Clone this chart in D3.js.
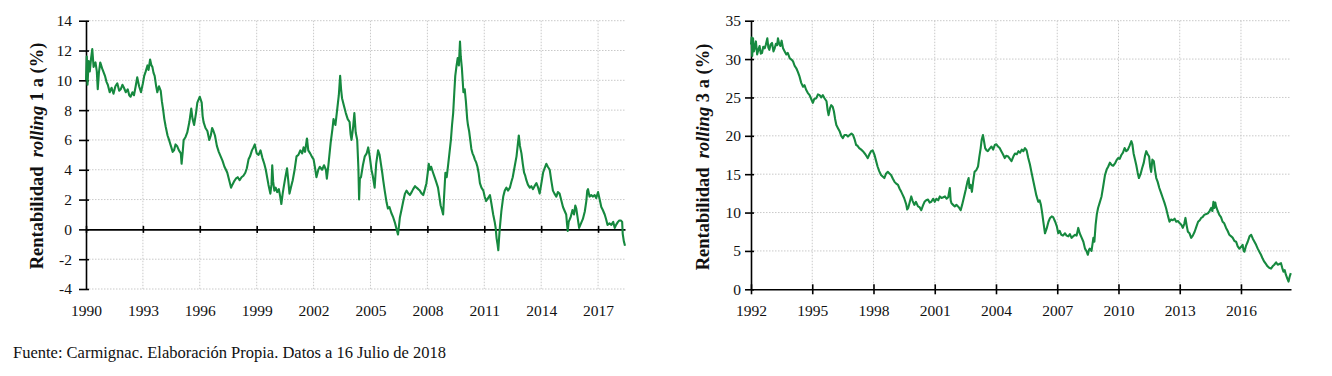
<!DOCTYPE html>
<html><head><meta charset="utf-8">
<script src="https://cdn.jsdelivr.net/npm/d3@7"></script>
<style>
body{margin:0;background:#fff;}
svg{display:block;font-family:"Liberation Serif","Times New Roman",serif;}
</style>
</head><body>
<svg id="c" width="1332" height="376"></svg>
<script>
// ---------- DATA ----------
const years1 = [1990.00,1990.04,1990.08,1990.14,1990.2,1990.27,1990.33,1990.4,1990.5,1990.57,1990.62,1990.68,1990.75,1990.85,1991.0,1991.08,1991.15,1991.25,1991.35,1991.45,1991.55,1991.65,1991.75,1991.83,1991.92,1992.0,1992.1,1992.2,1992.28,1992.35,1992.45,1992.53,1992.62,1992.7,1992.8,1992.9,1993.0,1993.07,1993.15,1993.24,1993.3,1993.38,1993.45,1993.5,1993.56,1993.62,1993.7,1993.76,1993.85,1993.94,1994.0,1994.07,1994.13,1994.2,1994.3,1994.38,1994.45,1994.5,1994.57,1994.64,1994.72,1994.8,1994.9,1995.0,1995.04,1995.1,1995.15,1995.25,1995.34,1995.45,1995.55,1995.62,1995.7,1995.8,1995.87,1996.0,1996.1,1996.15,1996.2,1996.3,1996.4,1996.5,1996.58,1996.65,1996.72,1996.8,1996.9,1997.0,1997.1,1997.2,1997.3,1997.38,1997.45,1997.55,1997.65,1997.72,1997.8,1997.9,1998.0,1998.1,1998.2,1998.3,1998.4,1998.48,1998.57,1998.65,1998.75,1998.83,1998.9,1999.0,1999.1,1999.2,1999.3,1999.4,1999.48,1999.55,1999.62,1999.72,1999.78,1999.82,1999.87,1999.93,2000.0,2000.08,2000.17,2000.24,2000.3,2000.37,2000.42,2000.5,2000.6,2000.67,2000.73,2000.82,2000.9,2001.0,2001.1,2001.2,2001.3,2001.4,2001.47,2001.55,2001.65,2001.72,2001.82,2001.9,2002.0,2002.08,2002.15,2002.25,2002.33,2002.45,2002.55,2002.65,2002.7,2002.78,2002.9,2003.0,2003.05,2003.15,2003.25,2003.33,2003.4,2003.45,2003.5,2003.6,2003.7,2003.8,2003.9,2003.95,2004.0,2004.08,2004.15,2004.22,2004.3,2004.36,2004.4,2004.44,2004.5,2004.6,2004.7,2004.8,2004.88,2004.97,2005.05,2005.12,2005.22,2005.3,2005.4,2005.48,2005.55,2005.62,2005.67,2005.75,2005.85,2005.92,2006.0,2006.1,2006.2,2006.3,2006.4,2006.45,2006.5,2006.55,2006.65,2006.73,2006.82,2006.9,2007.0,2007.08,2007.17,2007.25,2007.35,2007.43,2007.52,2007.6,2007.7,2007.78,2007.87,2007.95,2008.02,2008.07,2008.14,2008.2,2008.3,2008.38,2008.46,2008.56,2008.63,2008.7,2008.77,2008.83,2008.88,2008.95,2009.02,2009.1,2009.17,2009.24,2009.3,2009.36,2009.42,2009.47,2009.54,2009.6,2009.66,2009.72,2009.76,2009.82,2009.9,2009.97,2010.03,2010.1,2010.14,2010.2,2010.26,2010.32,2010.38,2010.45,2010.5,2010.57,2010.64,2010.7,2010.77,2010.85,2010.95,2011.02,2011.1,2011.2,2011.3,2011.38,2011.47,2011.55,2011.6,2011.65,2011.7,2011.74,2011.78,2011.82,2011.9,2012.0,2012.08,2012.17,2012.25,2012.35,2012.43,2012.5,2012.6,2012.7,2012.76,2012.82,2012.88,2012.96,2013.03,2013.1,2013.16,2013.22,2013.3,2013.4,2013.48,2013.57,2013.65,2013.75,2013.84,2013.92,2014.0,2014.1,2014.18,2014.27,2014.35,2014.45,2014.53,2014.62,2014.7,2014.8,2014.88,2014.97,2015.05,2015.15,2015.25,2015.32,2015.36,2015.4,2015.45,2015.55,2015.65,2015.73,2015.8,2015.85,2015.92,2016.0,2016.1,2016.2,2016.3,2016.38,2016.43,2016.47,2016.55,2016.64,2016.72,2016.82,2016.9,2017.0,2017.05,2017.12,2017.17,2017.25,2017.35,2017.42,2017.5,2017.6,2017.7,2017.8,2017.88,2017.95,2018.05,2018.12,2018.2,2018.27,2018.3,2018.36,2018.42];
const values1 = [10.0,11.6,9.7,11.3,10.6,11.5,12.1,10.9,11.2,10.6,9.4,10.5,11.2,10.8,10.3,9.9,9.7,9.2,9.5,9.1,9.6,9.8,9.3,9.4,9.7,9.5,9.2,9.4,9.0,8.9,9.2,9.0,9.6,10.2,9.6,9.2,9.8,10.3,10.6,11.0,10.7,11.4,11.0,10.9,10.5,10.3,9.6,9.2,9.6,9.3,8.6,8.0,7.4,6.9,6.3,6.0,5.7,5.5,5.2,5.3,5.7,5.6,5.3,5.1,4.4,5.2,6.0,6.2,6.5,7.2,8.1,7.4,7.0,7.8,8.5,8.9,8.5,7.6,7.2,6.8,6.6,6.0,6.3,6.8,6.6,6.3,5.6,5.2,4.9,4.6,4.2,4.0,3.8,3.3,2.8,3.0,3.2,3.4,3.5,3.3,3.5,3.6,3.8,4.1,4.7,4.9,5.3,5.5,5.7,5.1,5.0,5.3,4.8,4.4,4.0,3.5,3.0,2.4,3.0,4.3,3.2,2.6,2.8,2.5,2.7,2.2,1.7,2.4,2.8,3.4,4.1,3.2,2.4,2.9,3.3,4.0,4.9,5.0,5.3,5.1,5.5,5.2,6.1,5.3,5.1,4.9,4.7,4.1,3.5,4.0,4.2,4.0,4.3,4.0,3.4,4.3,5.8,6.8,7.4,7.0,8.1,9.0,10.3,9.4,8.8,8.3,7.8,7.4,7.2,6.4,6.0,6.8,7.8,6.5,6.0,4.2,2.0,3.4,3.5,4.3,4.9,5.1,5.5,4.8,4.0,3.6,2.8,4.4,5.3,5.0,4.4,3.8,3.3,2.6,1.8,1.4,1.5,1.1,0.8,0.4,-0.1,-0.35,0.2,0.8,1.4,1.9,2.4,2.6,2.4,2.3,2.5,2.7,2.9,2.8,2.7,2.6,2.4,2.3,2.7,3.1,3.8,4.4,4.0,4.2,3.8,3.5,3.2,2.8,2.2,1.6,1.3,1.0,2.2,3.8,3.5,4.4,5.2,6.0,7.0,7.8,9.2,10.3,11.0,11.5,11.0,12.6,11.6,10.8,9.2,9.4,8.6,7.4,7.0,6.6,6.0,5.4,5.1,4.9,4.7,4.5,4.2,3.8,3.1,2.8,2.6,2.2,1.9,2.1,2.3,1.7,1.0,0.5,0.1,-0.6,-1.0,-1.4,-0.6,0.1,1.2,2.2,2.6,2.8,2.6,2.8,3.2,3.5,4.2,4.9,5.6,6.3,5.6,5.1,4.4,3.8,3.6,3.3,3.0,2.8,2.9,2.7,2.9,3.1,2.8,2.4,3.0,3.8,4.1,4.4,4.2,4.0,3.3,2.6,2.4,2.2,2.5,2.4,2.0,1.5,1.2,1.0,0.4,-0.1,0.5,0.8,1.3,1.0,1.6,1.4,0.8,0.1,0.4,0.7,1.2,1.9,2.6,2.7,2.2,2.3,2.2,2.3,2.1,2.5,2.2,1.8,1.5,1.3,1.0,0.7,0.3,0.4,0.3,0.5,0.1,0.3,0.5,0.6,0.6,0.5,-0.3,-0.8,-1.1];

const years2 = [1992.0,1992.03,1992.06,1992.1,1992.14,1992.18,1992.24,1992.3,1992.36,1992.42,1992.48,1992.54,1992.6,1992.67,1992.73,1992.8,1992.85,1992.9,1992.96,1993.03,1993.1,1993.16,1993.22,1993.28,1993.32,1993.38,1993.44,1993.5,1993.57,1993.65,1993.73,1993.8,1993.9,1994.0,1994.06,1994.14,1994.22,1994.3,1994.38,1994.46,1994.55,1994.62,1994.7,1994.78,1994.87,1994.95,1995.03,1995.1,1995.2,1995.28,1995.36,1995.44,1995.52,1995.6,1995.7,1995.75,1995.8,1995.87,1995.93,1996.0,1996.06,1996.12,1996.18,1996.26,1996.34,1996.42,1996.5,1996.58,1996.67,1996.75,1996.83,1996.92,1997.0,1997.08,1997.15,1997.22,1997.3,1997.4,1997.48,1997.6,1997.72,1997.8,1997.88,1997.96,1998.05,1998.12,1998.2,1998.28,1998.37,1998.45,1998.53,1998.62,1998.7,1998.78,1998.86,1998.95,1999.03,1999.1,1999.2,1999.28,1999.36,1999.43,1999.5,1999.6,1999.65,1999.7,1999.78,1999.85,1999.92,2000.0,2000.08,2000.18,2000.26,2000.34,2000.42,2000.5,2000.58,2000.67,2000.75,2000.83,2000.92,2001.0,2001.08,2001.17,2001.25,2001.33,2001.42,2001.5,2001.58,2001.66,2001.74,2001.78,2001.82,2001.9,2001.98,2002.06,2002.14,2002.2,2002.27,2002.34,2002.44,2002.52,2002.6,2002.66,2002.7,2002.76,2002.82,2002.88,2002.95,2003.03,2003.12,2003.18,2003.25,2003.3,2003.36,2003.42,2003.47,2003.54,2003.6,2003.68,2003.78,2003.86,2003.94,2004.02,2004.1,2004.18,2004.26,2004.34,2004.43,2004.5,2004.6,2004.68,2004.76,2004.85,2004.93,2005.02,2005.1,2005.18,2005.26,2005.34,2005.42,2005.5,2005.58,2005.66,2005.75,2005.82,2005.9,2005.98,2006.07,2006.14,2006.2,2006.26,2006.32,2006.4,2006.48,2006.57,2006.65,2006.73,2006.8,2006.9,2006.98,2007.05,2007.12,2007.2,2007.28,2007.38,2007.46,2007.54,2007.62,2007.7,2007.78,2007.87,2007.95,2008.03,2008.1,2008.2,2008.28,2008.36,2008.43,2008.5,2008.56,2008.6,2008.68,2008.77,2008.82,2008.88,2008.94,2009.0,2009.08,2009.17,2009.25,2009.34,2009.42,2009.5,2009.58,2009.66,2009.74,2009.83,2009.9,2009.98,2010.06,2010.14,2010.22,2010.3,2010.38,2010.46,2010.54,2010.63,2010.68,2010.74,2010.8,2010.87,2010.94,2011.0,2011.08,2011.16,2011.24,2011.3,2011.36,2011.43,2011.5,2011.55,2011.6,2011.66,2011.73,2011.79,2011.85,2011.92,2012.0,2012.08,2012.17,2012.25,2012.33,2012.42,2012.5,2012.58,2012.66,2012.75,2012.83,2012.92,2013.0,2013.08,2013.15,2013.22,2013.28,2013.34,2013.4,2013.48,2013.56,2013.64,2013.73,2013.82,2013.9,2013.98,2014.05,2014.12,2014.2,2014.3,2014.38,2014.46,2014.54,2014.6,2014.65,2014.7,2014.74,2014.78,2014.86,2014.94,2015.02,2015.1,2015.18,2015.27,2015.35,2015.43,2015.52,2015.6,2015.68,2015.76,2015.84,2015.92,2016.0,2016.08,2016.13,2016.17,2016.25,2016.33,2016.42,2016.5,2016.58,2016.66,2016.74,2016.82,2016.9,2016.98,2017.06,2017.14,2017.22,2017.3,2017.38,2017.47,2017.55,2017.63,2017.72,2017.8,2017.88,2017.96,2018.02,2018.08,2018.14,2018.2,2018.27,2018.33,2018.38,2018.44];
const values2 = [31.9,32.8,30.4,32.7,31.0,31.4,32.3,30.6,31.2,31.7,30.7,30.8,31.6,31.4,31.9,32.7,31.5,31.2,31.9,32.1,31.0,31.4,32.0,31.8,32.7,32.0,31.7,32.4,31.4,31.0,30.6,30.8,30.1,29.9,29.7,29.1,28.8,28.3,27.7,26.9,26.4,26.6,26.0,25.6,25.3,24.8,24.3,24.8,24.9,25.4,25.3,25.0,25.3,24.9,24.5,23.4,22.7,23.6,24.0,23.8,23.2,22.2,21.4,21.0,20.6,20.0,19.7,20.1,20.1,19.9,20.1,20.3,20.1,19.5,18.8,18.7,18.4,18.2,18.0,17.6,17.1,17.6,18.0,18.1,17.5,16.8,16.0,15.4,14.9,14.7,14.5,15.1,15.3,15.1,14.9,14.4,14.0,13.8,13.6,13.1,12.7,12.3,11.9,11.1,10.4,10.6,11.4,12.1,11.5,11.0,11.4,10.8,10.7,10.3,10.9,11.4,11.6,11.7,11.3,11.4,11.8,11.4,11.8,11.6,12.1,11.9,12.0,12.1,11.8,12.0,13.2,11.6,11.2,11.0,10.8,11.0,10.8,10.6,10.3,11.0,12.1,13.0,14.0,14.5,13.2,13.6,12.7,14.0,15.3,15.5,16.0,17.2,18.4,19.5,20.1,19.2,18.4,18.1,18.0,18.3,18.6,18.2,18.8,18.9,18.6,18.4,18.0,17.6,17.1,17.4,17.3,17.0,16.7,17.3,17.7,17.6,18.0,17.8,18.2,18.0,18.4,18.1,17.1,16.3,15.1,14.2,13.2,12.2,11.4,11.6,11.0,10.0,8.8,7.3,7.9,8.8,9.3,9.5,9.4,8.8,8.2,7.3,7.6,7.1,7.0,7.3,7.0,6.9,7.2,6.7,6.9,7.1,7.0,8.0,7.3,6.7,6.2,5.3,5.0,4.5,5.2,5.3,5.0,6.7,6.2,8.4,9.8,10.6,11.3,12.1,13.4,14.9,15.6,16.0,16.5,16.2,16.1,16.4,16.8,17.1,17.0,17.5,17.8,18.4,18.0,18.2,18.7,19.3,18.9,17.7,17.0,16.2,15.2,14.5,15.0,15.8,16.5,17.4,18.0,17.6,17.3,16.0,15.3,16.9,16.7,15.5,14.5,14.0,13.2,12.6,11.9,11.3,10.6,9.6,8.8,9.1,9.0,9.2,8.8,8.9,8.6,8.4,8.0,8.5,9.3,8.3,7.5,7.3,6.7,7.0,7.5,8.2,8.8,9.0,9.3,9.4,9.7,9.8,9.9,10.2,10.6,10.2,11.4,10.6,11.3,10.8,10.2,9.7,9.4,8.8,8.6,8.0,7.6,7.1,6.9,6.7,6.3,6.2,5.6,5.3,5.5,5.8,5.0,4.9,5.7,6.2,6.9,7.1,6.6,6.2,5.8,5.3,4.9,4.5,4.0,3.6,3.3,3.0,2.8,2.7,3.0,3.2,3.5,3.2,3.3,3.4,2.8,2.3,2.5,1.9,1.4,1.0,1.6,2.1];

const xTicks1 = [1990,1993,1996,1999,2002,2005,2008,2011,2014,2017];
const yTicks1 = [-4,-2,0,2,4,6,8,10,12,14];
const xTicks2 = [1992,1995,1998,2001,2004,2007,2010,2013,2016];
const yTicks2 = [0,5,10,15,20,25,30,35];
const yLabel1 = ["Rentabilidad  ", "rolling", " 1 a (%)"];
const yLabel2 = ["Rentabilidad  ", "rolling", " 3 a (%)"];
const sourceText = "Fuente: Carmignac. Elaboración Propia. Datos a 16 Julio de 2018";

// ---------- DRAW ----------
const svg = d3.select("#c");
svg.append("rect").attr("width",1332).attr("height",376).attr("fill","#fff");

const GREEN = "#16893f";
const GRID = "#c9c9c9";
const plain = d => String(d);   // hyphen-minus, as in the original

function drawChart(cfg){
  const g = svg.append("g");
  const x = d3.scaleLinear().domain(cfg.xDomain).range([cfg.left, cfg.right]);
  const y = d3.scaleLinear().domain(cfg.yDomain).range([cfg.bottom, cfg.top]);

  g.append("g").selectAll("line").data(cfg.yTicks.filter(d => d !== 0)).join("line")
    .attr("x1", cfg.left).attr("x2", cfg.right)
    .attr("y1", d => y(d)).attr("y2", d => y(d))
    .attr("stroke", GRID).attr("stroke-width", 1).attr("stroke-dasharray", "1.5,1.5");
  g.append("g").selectAll("line").data(cfg.xTicks.filter(d => d !== cfg.xDomain[0])).join("line")
    .attr("x1", d => x(d)).attr("x2", d => x(d))
    .attr("y1", cfg.top).attr("y2", cfg.bottom)
    .attr("stroke", GRID).attr("stroke-width", 1).attr("stroke-dasharray", "1.5,1.5");

  const yAxis = g.append("g").attr("transform", `translate(${cfg.left},0)`)
    .call(d3.axisLeft(y).tickValues(cfg.yTicks).tickSizeOuter(0).tickFormat(plain));
  yAxis.select(".domain").attr("stroke","#000").attr("stroke-width",1.6);
  yAxis.selectAll(".tick line").attr("x1", 3).attr("x2", -cfg.yTickOut).attr("stroke","#000").attr("stroke-width",1.6);
  yAxis.selectAll(".tick text").attr("x", -cfg.yLabelGap).attr("font-size", 15.5)
    .attr("font-family", "Liberation Serif").attr("fill","#111");

  const y0 = y(0);
  const xAxis = g.append("g").attr("transform", `translate(0,${y0})`)
    .call(d3.axisBottom(x).tickValues(cfg.xTicks).tickSizeOuter(0).tickFormat(plain));
  xAxis.select(".domain").attr("stroke","#000").attr("stroke-width",1.6);
  xAxis.selectAll(".tick line").attr("y1", -cfg.xTickHalf).attr("y2", cfg.xTickHalf)
    .attr("stroke","#000").attr("stroke-width",1.6);
  xAxis.selectAll(".tick text").attr("y", cfg.xLabelY - y0).attr("dy","0.32em")
    .attr("font-size", 15.5).attr("font-family", "Liberation Serif").attr("fill","#111");

  const pts = cfg.years.map((yr, i) => [yr, cfg.values[i]]);
  g.append("path").datum(pts)
    .attr("d", d3.line().x(d => x(d[0])).y(d => y(d[1])))
    .attr("fill","none").attr("stroke", GREEN).attr("stroke-width", 2.1)
    .attr("stroke-linejoin","round");

  const t = g.append("text")
    .attr("transform", `translate(${cfg.titleX},${cfg.titleY}) rotate(-90)`)
    .attr("text-anchor","middle").attr("font-size", 18.5).attr("font-weight","bold")
    .attr("font-family","Liberation Serif").attr("fill","#111")
    .style("white-space","pre");
  t.append("tspan").text(cfg.label[0]);
  t.append("tspan").attr("font-style","italic").text(cfg.label[1]);
  t.append("tspan").text(cfg.label[2]);
}

drawChart({
  years: years1, values: values1, xTicks: xTicks1, yTicks: yTicks1, label: yLabel1,
  xDomain: [1990, 2018.42], yDomain: [-4, 14],
  left: 86, right: 625, top: 20.7, bottom: 289,
  yTickOut: 7, yLabelGap: 14, xTickHalf: 3.5, xLabelY: 311,
  titleX: 43, titleY: 156
});

drawChart({
  years: years2, values: values2, xTicks: xTicks2, yTicks: yTicks2, label: yLabel2,
  xDomain: [1992, 2018.45], yDomain: [0, 35],
  left: 751, right: 1291, top: 20.7, bottom: 289.3,
  yTickOut: 6, yLabelGap: 10, xTickHalf: 5, xLabelY: 311,
  titleX: 709, titleY: 157
});

svg.append("text").attr("x", 13).attr("y", 358)
  .attr("font-size", 16.5).attr("font-family","Liberation Serif").attr("fill","#111")
  .text(sourceText);
</script>
</body></html>
